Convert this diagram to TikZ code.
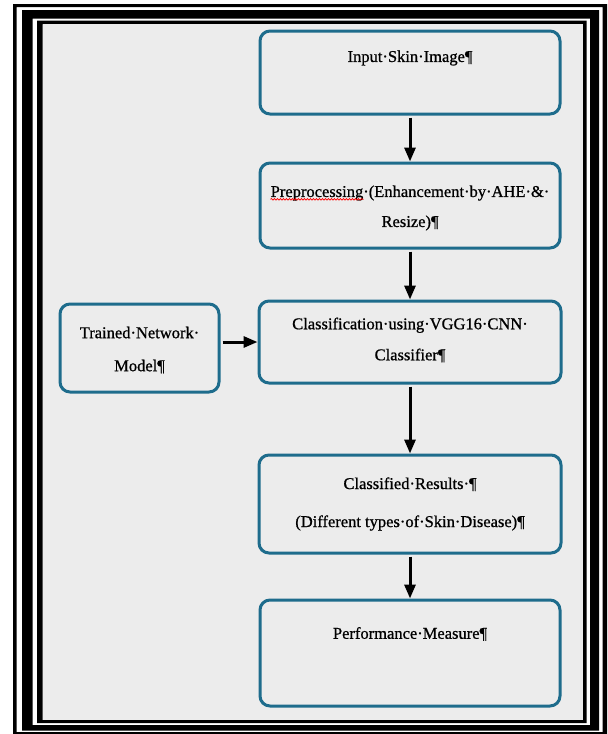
\documentclass[tikz,border=0pt]{standalone}
\usepackage{fontspec}
\setmainfont{Liberation Serif}[FakeBold=0.8]
\usetikzlibrary{arrows.meta,decorations.pathmorphing}
\definecolor{boxblue}{RGB}{30,108,140}
\definecolor{panel}{RGB}{236,236,236}
\tikzset{
  blk/.style={draw=boxblue, line width=3pt, rounded corners=10pt, fill=panel},
  txt/.style={align=center, inner sep=0pt},
  arw/.style={line width=3pt, -{Triangle[length=14pt,width=11pt]}, shorten <=2pt},
}
\begin{document}
\begin{tikzpicture}[x=1pt,y=-1pt]
        \useasboundingbox (0,0) rectangle (608,734);
        % frame
        \fill[even odd rule] (13,4) rectangle (607,734) (16.5,7) rectangle (602.5,732);
        \fill[even odd rule] (22,10) rectangle (599,730.5) (32.5,18.7) rectangle (590,725);
        \fill[even odd rule] (37,20.7) rectangle (586.5,723) (42.5,24) rectangle (583,720);
        \fill[panel] (42.5,24) rectangle (583,720);

        \node[blk, minimum width=300pt, minimum height=83pt] (in) at (410,72.5) {};
        \node[blk, minimum width=300pt, minimum height=85pt] (pre) at (410,205.5) {};
        \node[blk, minimum width=302pt, minimum height=82pt] (cls) at (410,342) {};
        \node[blk, minimum width=159pt, minimum height=88pt] (trn) at (139.5,348) {};
        \node[blk, minimum width=302pt, minimum height=98pt] (res) at (410,504) {};
        \node[blk, minimum width=300pt, minimum height=106pt] (perf) at (410,653) {};

        \node[txt, font=\fontsize{16.5}{20}\selectfont] (inT) at (410,58) {Input·Skin·Image¶};
        \node[txt, font=\fontsize{16.5}{30}\selectfont] (preT) at (410,208) {Preprocessing·(Enhancement·by·AHE·\&·\\Resize)¶};
        \node[txt, font=\fontsize{16.5}{31}\selectfont] (clsT) at (410,340) {Classification·using·VGG16·CNN·\\Classifier¶};
        \node[txt, font=\fontsize{16.5}{33}\selectfont] (trnT) at (139.5,350) {Trained·Network·\\Model¶};
        \node[txt, font=\fontsize{16.5}{38}\selectfont] (resT) at (410,504) {Classified·Results·¶\\(Different types·of·Skin·Disease)¶};
        \node[txt, font=\fontsize{16.5}{20}\selectfont] (perfT) at (410,634) {Performance·Measure¶};

        \draw[red, line width=0.7pt, decorate, decoration={snake, amplitude=0.8pt, segment length=3pt}]
          ([yshift=-14pt]preT.north west) -- ++(93,0);

        \draw[arw] (in) -- (pre);
        \draw[arw] (pre) -- (cls);
        \draw[arw] (trn.east |- cls.west) -- (cls.west);
        \draw[arw] (cls) -- (res);
        \draw[arw] (res) -- (perf);
\end{tikzpicture}
\end{document}
